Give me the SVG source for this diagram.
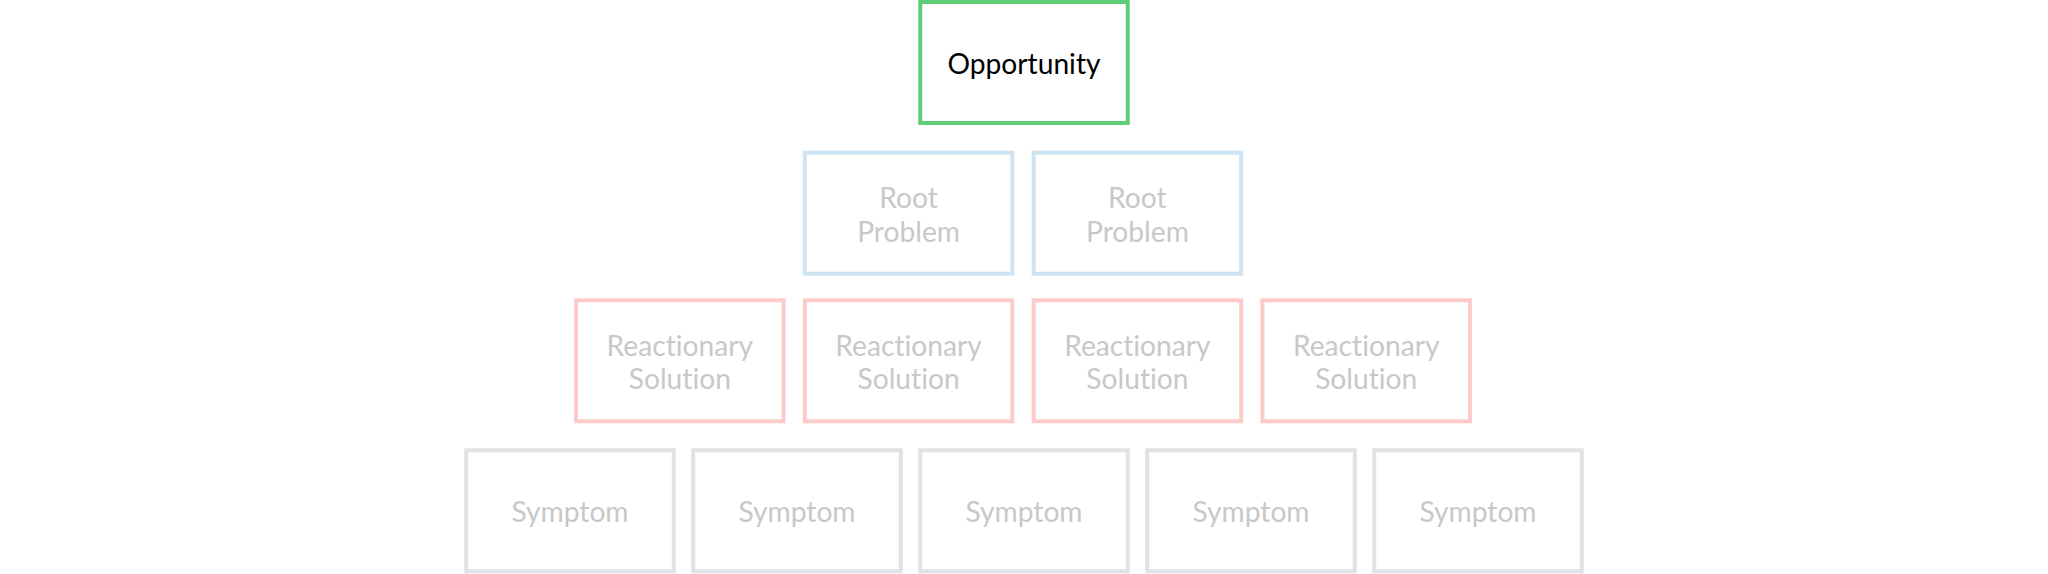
<svg xmlns="http://www.w3.org/2000/svg" width="2048" height="574" viewBox="0 0 2048 574">
<style>
.box{fill:#ffffff;stroke-width:4}
.opp{stroke:#5fcd77}
.root{stroke:#cfe4f3}
.reac{stroke:#fdcaca}
.sym{stroke:#e1e1e6}
text{font-family:Lato,"Open Sans","Liberation Sans",sans-serif;font-size:28.2px;text-anchor:middle;fill:#c8c8c8;font-variant-ligatures:none;font-feature-settings:"liga" 0,"clig" 0}
text.dark{fill:#000000}
</style>
<rect width="2048" height="574" fill="#ffffff"/>
<g id="connectors"/>
<g id="opportunity">
<rect class="box opp" x="920.25" y="2" width="207.5" height="121"/>
<text class="dark" x="1024" y="74">Opportunity</text>
</g>
<g id="root1">
<rect class="box root" x="804.85" y="152.7" width="207.5" height="121"/>
<text x="908.6" y="208.3">Root</text>
<text x="908.6" y="241.7">Problem</text>
</g>
<g id="root2">
<rect class="box root" x="1033.65" y="152.7" width="207.5" height="121"/>
<text x="1137.4" y="208.3">Root</text>
<text x="1137.4" y="241.7">Problem</text>
</g>
<g id="reactionary1">
<rect class="box reac" x="576.05" y="300.3" width="207.5" height="121"/>
<text x="679.8" y="355.8">Reactionary</text>
<text x="679.8" y="389.3">Solution</text>
</g>
<g id="reactionary2">
<rect class="box reac" x="804.85" y="300.3" width="207.5" height="121"/>
<text x="908.6" y="355.8">Reactionary</text>
<text x="908.6" y="389.3">Solution</text>
</g>
<g id="reactionary3">
<rect class="box reac" x="1033.65" y="300.3" width="207.5" height="121"/>
<text x="1137.4" y="355.8">Reactionary</text>
<text x="1137.4" y="389.3">Solution</text>
</g>
<g id="reactionary4">
<rect class="box reac" x="1262.45" y="300.3" width="207.5" height="121"/>
<text x="1366.2" y="355.8">Reactionary</text>
<text x="1366.2" y="389.3">Solution</text>
</g>
<g id="symptom1">
<rect class="box sym" x="466.25" y="450.3" width="207.5" height="121"/>
<text x="570" y="522.3">Symptom</text>
</g>
<g id="symptom2">
<rect class="box sym" x="693.25" y="450.3" width="207.5" height="121"/>
<text x="797" y="522.3">Symptom</text>
</g>
<g id="symptom3">
<rect class="box sym" x="920.25" y="450.3" width="207.5" height="121"/>
<text x="1024" y="522.3">Symptom</text>
</g>
<g id="symptom4">
<rect class="box sym" x="1147.25" y="450.3" width="207.5" height="121"/>
<text x="1251" y="522.3">Symptom</text>
</g>
<g id="symptom5">
<rect class="box sym" x="1374.25" y="450.3" width="207.5" height="121"/>
<text x="1478" y="522.3">Symptom</text>
</g>
</svg>
